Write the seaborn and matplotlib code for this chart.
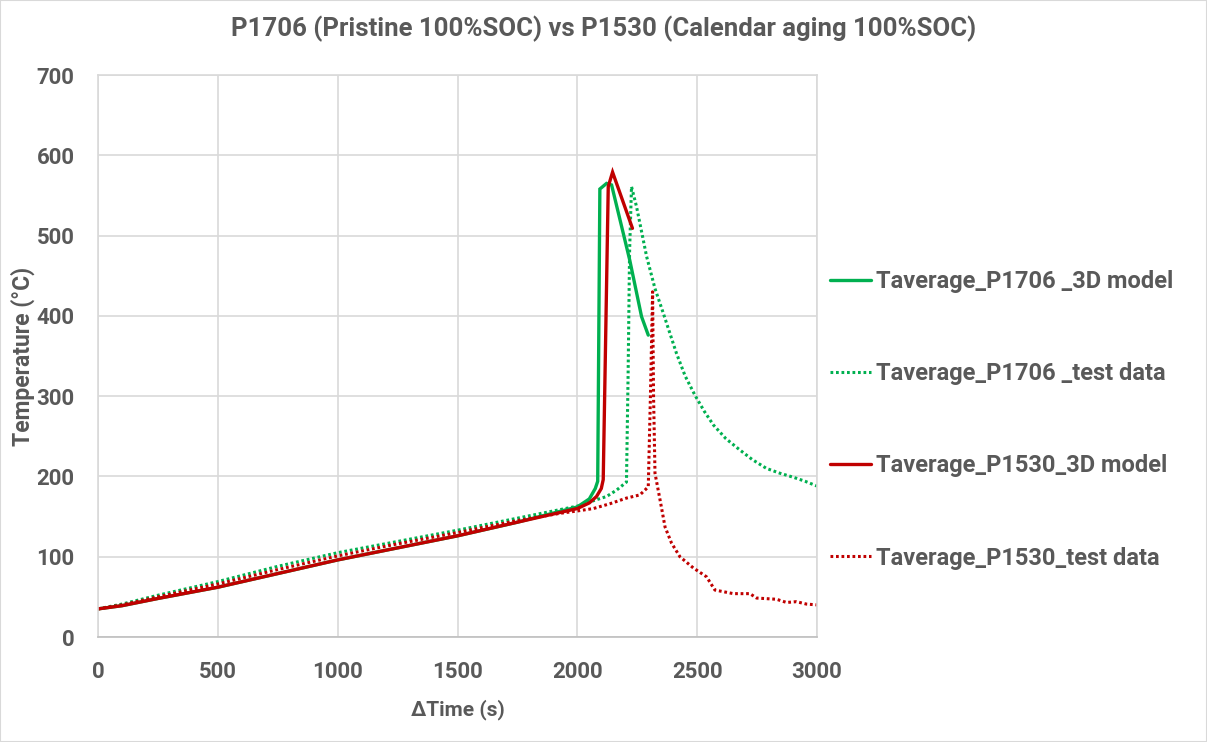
import matplotlib.pyplot as plt
import seaborn as sns
import pandas as pd
from matplotlib.patches import Rectangle

# Data
t_p1706_model = [0, 100, 250, 500, 750, 1000, 1250, 1500, 1750, 2000, 2050, 2075, 2085, 2094, 2122, 2143, 2219, 2268, 2296]
T_p1706_model = [35, 39, 48, 62, 79, 96, 111, 126, 143, 162, 172, 185, 194, 558, 565, 563, 469, 399, 376]

t_p1706_test = [0, 100, 250, 500, 750, 1000, 1250, 1500, 1750, 2000, 2080, 2122, 2164, 2205, 2212, 2218, 2226,
                2247, 2289, 2324, 2359, 2414, 2450, 2491, 2530, 2568, 2620, 2678, 2730, 2789, 2845, 2901, 2950, 3000]
T_p1706_test = [35, 41, 52, 69, 88, 105, 119, 133, 148, 163, 171, 175, 183, 193, 330, 480, 561,
                536, 474, 434, 403, 353, 325, 301, 281, 264, 247, 233, 221, 210, 204, 199, 194, 188]

t_p1530_model = [0, 100, 250, 500, 750, 1000, 1250, 1500, 1750, 2000, 2050, 2080, 2100, 2108, 2129, 2147, 2230]
T_p1530_model = [35, 39, 48, 62, 79, 96, 111, 126, 143, 160, 167, 175, 185, 196, 561, 579, 509]

t_p1530_test = [0, 100, 250, 500, 750, 1000, 1250, 1500, 1750, 1927, 2000, 2067, 2136, 2205, 2261, 2296, 2305,
                2314, 2318, 2324, 2345, 2366, 2393, 2428, 2484, 2539, 2574, 2651, 2720, 2748, 2831, 2873,
                2914, 2956, 3000]
T_p1530_test = [35, 40, 50, 66, 84, 101, 116, 130, 145, 154, 157, 160, 166, 173, 177, 187, 300,
                430, 300, 204, 171, 137, 117, 100, 86, 75, 58.5, 54, 54, 48.5, 47, 43,
                44, 41, 40]

labels = ["Taverage_P1706 _3D model", "Taverage_P1706 _test data",
          "Taverage_P1530_3D model", "Taverage_P1530_test data"]

GREEN = "#00B050"
RED = "#C00000"
GRAY = "#595959"

sns.set_theme(style="white")
plt.rcParams['font.family'] = ['Roboto', 'DejaVu Sans']

fig = plt.figure(figsize=(12.07, 7.42), dpi=100)
ax = fig.add_axes([98 / 1207, 1 - 637 / 742, 719 / 1207, 562 / 742])

DOT = (0, (0.9, 0.9))
series = [
    (t_p1706_model, T_p1706_model, GREEN, '-', 2.4),
    (t_p1706_test, T_p1706_test, GREEN, DOT, 2.2),
    (t_p1530_model, T_p1530_model, RED, '-', 2.4),
    (t_p1530_test, T_p1530_test, RED, DOT, 2.2),
]
for (tx, ty, col, ls, lw), lab in zip(series, labels):
    df = pd.DataFrame({'t': tx, 'T': ty})
    sns.lineplot(data=df, x='t', y='T', ax=ax, color=col, linestyle=ls, linewidth=lw,
                 estimator=None, sort=False, label=lab, dash_capstyle='butt',
                 solid_joinstyle='miter')

ax.set_xlim(0, 3000)
ax.set_ylim(0, 700)
ax.set_xticks(range(0, 3001, 500))
ax.set_yticks(range(0, 701, 100))
ax.grid(True, color='#d9d9d9', linewidth=1.2)
for s in ax.spines.values():
    s.set_color('#d9d9d9')
    s.set_linewidth(1.2)
ax.spines['bottom'].set_color('#bfbfbf')
ax.tick_params(length=0, labelsize=16, colors=GRAY, pad=17)
for lbl in ax.get_xticklabels() + ax.get_yticklabels():
    lbl.set_fontweight('bold')

ax.set_xlabel("ΔTime (s)", fontsize=15, color=GRAY, fontweight='bold', labelpad=12)
ax.set_ylabel("Temperature (°C)", fontsize=16.5, color=GRAY, fontweight='bold', labelpad=1)

fig.suptitle("P1706 (Pristine 100%SOC) vs P1530 (Calendar aging 100%SOC)",
             x=0.5, y=1 - 29 / 742, va='center', fontsize=18.5, color=GRAY, fontweight='bold')

handles, labs = ax.get_legend_handles_labels()
ax.get_legend().remove()
fig.legend(handles, labs, loc='upper left', bbox_to_anchor=(830 / 1207, 1 - 270 / 742),
           frameon=False, labelcolor=GRAY, handlelength=1.75, handletextpad=0.2,
           labelspacing=2.93, borderpad=0, borderaxespad=0, prop={'weight': 'bold', 'size': 17})

fig.patches.append(Rectangle((0, 0), 1, 1, transform=fig.transFigure, fill=False,
                             edgecolor='#d9d9d9', linewidth=1.5))

fig.savefig("out.png", dpi=100)
